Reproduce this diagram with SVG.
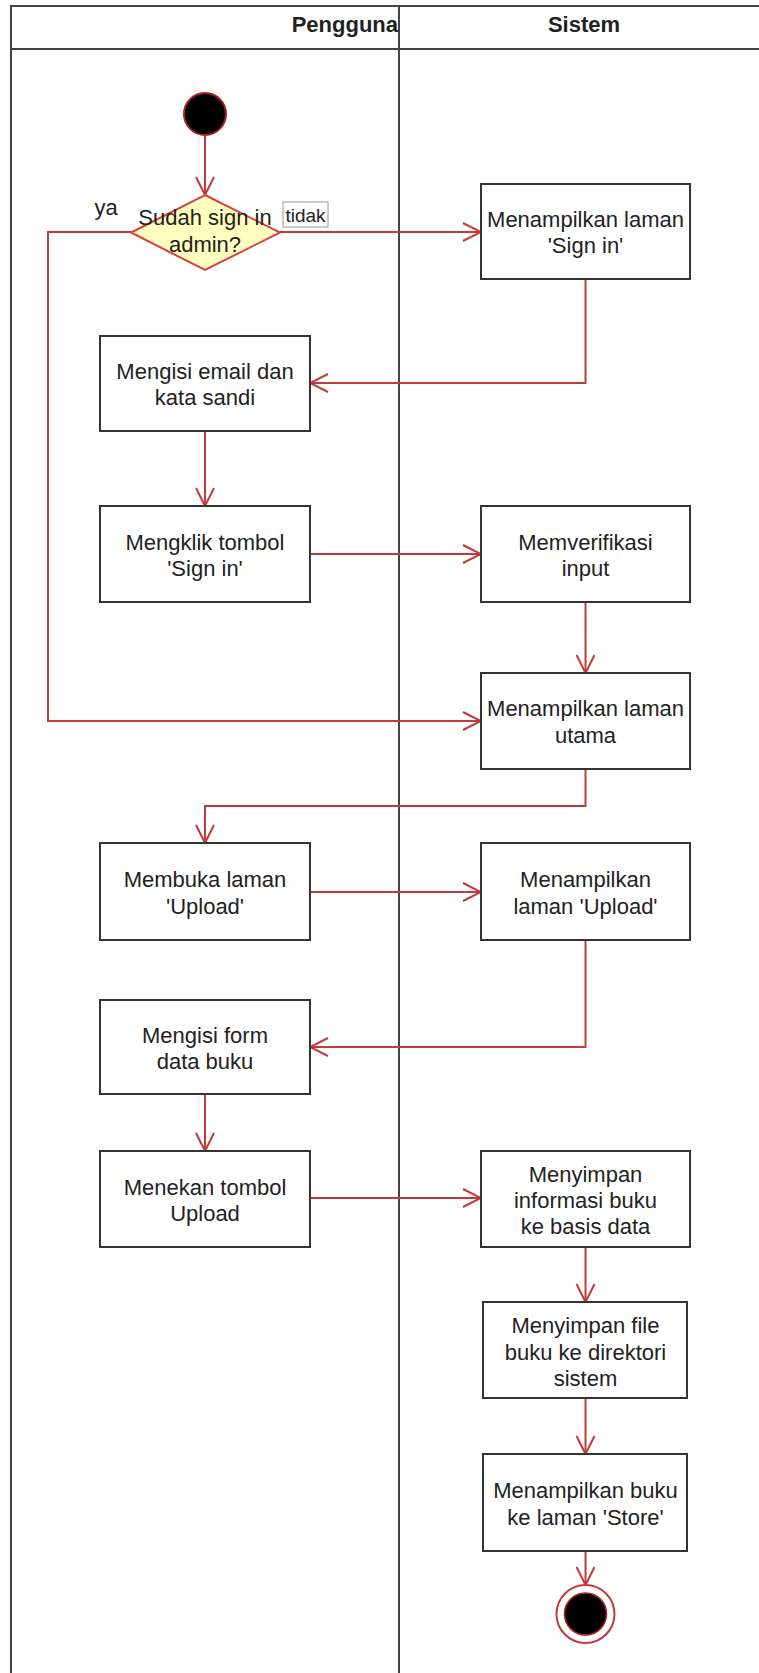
<svg xmlns="http://www.w3.org/2000/svg" width="759" height="1673" viewBox="0 0 759 1673">
<style>
.lane{fill:none;stroke:#444;stroke-width:2}
.box{fill:#fff;stroke:#333;stroke-width:2}
.t{font-family:"Liberation Sans",Arial,sans-serif;font-size:22px;fill:#222;text-anchor:middle}
.h{font-family:"Liberation Sans",Arial,sans-serif;font-size:22px;font-weight:bold;fill:#222}
.c{fill:none;stroke:#c43a3a;stroke-width:2}
</style>
<defs>
<marker id="arr" markerUnits="userSpaceOnUse" markerWidth="20" markerHeight="20" refX="18" refY="9" orient="auto" viewBox="-1 -1 20 20">
<path d="M0,0 L18,9 L0,18" fill="none" stroke="#c43a3a" stroke-width="2"/>
</marker>
</defs>
<rect width="759" height="1673" fill="#fff"/>
<g id="swimlanes">
<rect class="lane" x="11" y="6" width="760" height="1680"/>
<line class="lane" x1="11" y1="49" x2="759" y2="49"/>
<line class="lane" x1="399" y1="6" x2="399" y2="1673"/>
<text class="h" x="398" y="32" text-anchor="end">Pengguna</text>
<text class="h" x="584" y="32" text-anchor="middle">Sistem</text>
</g>
<g id="connectors">
<path class="c" d="M205,135 L205,195" marker-end="url(#arr)"/>
<path class="c" d="M280,232 L481,232" marker-end="url(#arr)"/>
<path class="c" d="M131,232 L48,232 L48,721 L481,721" marker-end="url(#arr)"/>
<path class="c" d="M585.5,279 L585.5,383 L310,383" marker-end="url(#arr)"/>
<path class="c" d="M205,431 L205,506" marker-end="url(#arr)"/>
<path class="c" d="M310,554 L481,554" marker-end="url(#arr)"/>
<path class="c" d="M585.5,602 L585.5,673" marker-end="url(#arr)"/>
<path class="c" d="M585.5,769 L585.5,806 L205,806 L205,843" marker-end="url(#arr)"/>
<path class="c" d="M310,892 L481,892" marker-end="url(#arr)"/>
<path class="c" d="M585.5,940 L585.5,1047 L310,1047" marker-end="url(#arr)"/>
<path class="c" d="M205,1094 L205,1151" marker-end="url(#arr)"/>
<path class="c" d="M310,1198 L481,1198" marker-end="url(#arr)"/>
<path class="c" d="M585.5,1247 L585.5,1302" marker-end="url(#arr)"/>
<path class="c" d="M585.5,1398 L585.5,1454" marker-end="url(#arr)"/>
<path class="c" d="M585.5,1551 L585.5,1585" marker-end="url(#arr)"/>
<text class="t" x="106" y="215">ya</text>
<rect x="283" y="202" width="45" height="25" fill="#fff" stroke="#999" stroke-width="1"/>
<text class="t" x="305.5" y="222" style="font-size:19px">tidak</text>
</g>
<g id="start"><circle cx="205" cy="114" r="21" fill="#000" stroke="#b02020" stroke-width="2"/></g>
<g id="decision">
<polygon points="205,195 280,232.5 205,270 131,232.5" fill="#ffffc0" stroke="#d94040" stroke-width="2"/>
<text class="t" x="205" y="225">Sudah sign in</text>
<text class="t" x="205" y="252">admin?</text>
</g>
<g id="tampil-signin"><rect class="box" x="481" y="184" width="209" height="95"/>
<text class="t" x="585.5" y="227">Menampilkan laman</text><text class="t" x="585.5" y="253">'Sign in'</text></g>
<g id="isi-email"><rect class="box" x="100" y="336" width="210" height="95"/>
<text class="t" x="205" y="379">Mengisi email dan</text><text class="t" x="205" y="405">kata sandi</text></g>
<g id="klik-signin"><rect class="box" x="100" y="506" width="210" height="96"/>
<text class="t" x="205" y="549.5">Mengklik tombol</text><text class="t" x="205" y="576">'Sign in'</text></g>
<g id="verifikasi"><rect class="box" x="481" y="506" width="209" height="96"/>
<text class="t" x="585.5" y="549.5">Memverifikasi</text><text class="t" x="585.5" y="576">input</text></g>
<g id="tampil-utama"><rect class="box" x="481" y="673" width="209" height="96"/>
<text class="t" x="585.5" y="716">Menampilkan laman</text><text class="t" x="585.5" y="743">utama</text></g>
<g id="buka-upload"><rect class="box" x="100" y="843" width="210" height="97"/>
<text class="t" x="205" y="887">Membuka laman</text><text class="t" x="205" y="914">'Upload'</text></g>
<g id="tampil-upload"><rect class="box" x="481" y="843" width="209" height="97"/>
<text class="t" x="585.5" y="887">Menampilkan</text><text class="t" x="585.5" y="914">laman 'Upload'</text></g>
<g id="isi-form"><rect class="box" x="100" y="1000" width="210" height="94"/>
<text class="t" x="205" y="1043">Mengisi form</text><text class="t" x="205" y="1069">data buku</text></g>
<g id="tekan-upload"><rect class="box" x="100" y="1151" width="210" height="96"/>
<text class="t" x="205" y="1195">Menekan tombol</text><text class="t" x="205" y="1221">Upload</text></g>
<g id="simpan-info"><rect class="box" x="481" y="1151" width="209" height="96"/>
<text class="t" x="585.5" y="1182">Menyimpan</text><text class="t" x="585.5" y="1208">informasi buku</text><text class="t" x="585.5" y="1234">ke basis data</text></g>
<g id="simpan-file"><rect class="box" x="483" y="1302" width="204" height="96"/>
<text class="t" x="585.5" y="1333">Menyimpan file</text><text class="t" x="585.5" y="1360">buku ke direktori</text><text class="t" x="585.5" y="1386">sistem</text></g>
<g id="tampil-store"><rect class="box" x="483" y="1454" width="204" height="97"/>
<text class="t" x="585.5" y="1498">Menampilkan buku</text><text class="t" x="585.5" y="1525">ke laman 'Store'</text></g>
<g id="end">
<circle cx="585.5" cy="1614" r="29" fill="#fff" stroke="#c43a3a" stroke-width="2"/>
<circle cx="585.5" cy="1614" r="21" fill="#000" stroke="#b02020" stroke-width="1.5"/>
</g>
</svg>
